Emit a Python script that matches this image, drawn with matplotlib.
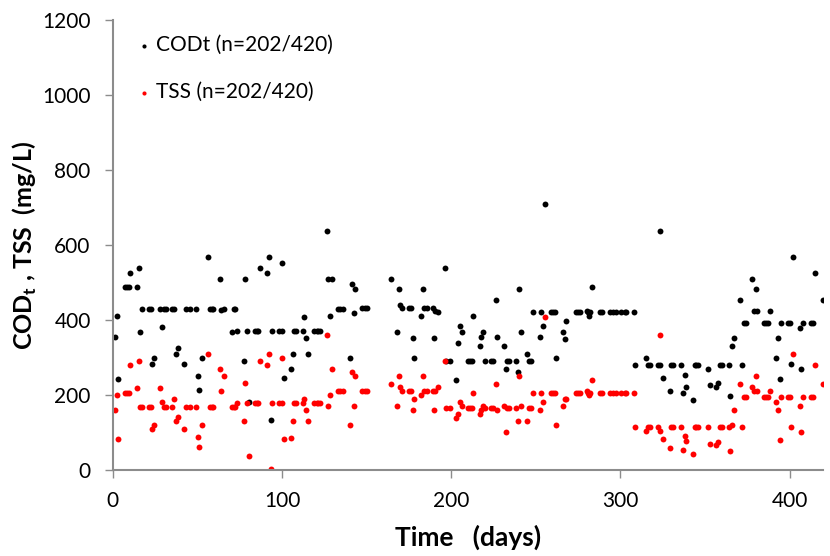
import matplotlib
matplotlib.use('Agg')
import matplotlib.pyplot as plt

plt.rcParams['font.family'] = ['Lato', 'DejaVu Sans']
plt.rcParams['mathtext.fontset'] = 'custom'
plt.rcParams['mathtext.bf'] = 'Lato:bold'

# sampling day, CODt and TSS (mg/L)
days = [1.2, 2.4, 3.3, 7.3, 8.3, 9.4, 10.4, 14.4, 15.4, 16.3, 17.3, 21.5, 22.4, 23.2, 24.4,
        28.1, 29.3, 30.1, 31.3, 35.2, 36.2, 37.4, 38.4, 42.3, 43.5, 45.3, 49.4, 50.2, 51.2,
        52.4, 56.1, 57.5, 58.5, 59.4, 63.4, 64.2, 65.4, 70.3, 71.5, 72.2, 73.2, 77.4, 78.3,
        79.1, 80.3, 84, 85, 86, 87.2, 91.1, 92.3, 93.3, 94.3, 98.2, 99.8,
        100.2, 101.2, 105.3, 106.3, 107.3, 108.3, 112.2, 113.2, 114.2, 115.1, 119.1, 120.5,
        121.4, 122.4, 126.4, 127.3, 128.1, 129.3, 133.3, 134.2, 136.2, 140.1, 141.1, 142.3,
        143.3, 147.2, 149, 150.4, 164.2, 168.1, 169.1, 169.9, 171.1, 174.8, 176.2, 177.2,
        178.1, 182.1, 183.1, 184, 185.4, 189, 190.1, 190.7, 191.9, 196.1, 197.2, 199.2,
        203.1, 204.1, 205.1, 206.1, 210, 211, 212, 213, 216.9, 217.9, 218.9, 219.9, 223.8,
        224.8, 226.2, 227.2, 231.1, 232.1, 233.1, 234.1, 238.2, 239.2, 240.2, 241.1, 245.1,
        246.1, 247.1, 248.2, 252.2, 253.1, 254.1, 255.3, 259.2, 260.2, 261.2, 262.2, 266.1,
        267.1, 268.1, 274, 275, 276, 280, 281, 281.5, 282.3, 283.3, 287.8, 289.2, 293.7,
        295.7, 297.6, 300.6, 302.6, 303.5, 307.9,
        308.9, 315, 316.3, 317.3, 322.2, 323.2, 323.4, 325.2, 329.1, 330.1, 331.1, 336, 337,
        338, 339, 342.9, 343.9, 344.9, 345.9, 352, 353, 356.7, 357.9, 359, 360, 364, 365,
        366, 367, 371, 372, 373, 374, 378, 379, 380, 381, 385, 386.2, 387.4, 388.2, 392.1,
        393.1, 394.1, 395.1, 399, 400, 401, 402, 405.9, 406.9, 407.9, 412.8, 413.8, 415, 420]

cod = [354, 411, 242, 489, 489, 489, 524, 489, 539, 368, 429, 429, 429, 282, 297,
       429, 381, 429, 429, 429, 429, 310, 325, 282, 429, 429, 429, 251, 212,
       297, 567, 429, 429, 429, 510, 427, 429, 368, 429, 429, 370, 290, 509,
       370, 181, 370, 370, 370, 539, 524, 567, 132, 370, 370, 370,
       553, 245, 269, 310, 370, 370, 370, 409, 353, 310, 370, 370,
       370, 370, 637, 509, 410, 509, 430, 430, 430, 297, 496, 419,
       482, 431, 431, 431, 509, 367, 482, 439, 431, 431, 431, 353,
       299, 410, 482, 431, 431, 431, 353, 425, 420, 539, 289, 289,
       239, 339, 384, 368, 289, 289, 289, 411, 329, 354, 368, 289, 289,
       289, 453, 354, 329, 268, 289, 289, 289, 260, 482, 368, 310,
       289, 289, 420, 354, 420, 384, 709, 420, 420, 420, 297, 368,
       349, 396, 420, 420, 420, 425, 420, 411, 420, 489, 420, 420, 420,
       420, 420, 420, 420, 420, 420,
       279, 299, 279, 279, 279, 279, 637, 244, 211, 279, 279, 279, 204,
       254, 220, 185, 279, 279, 279, 269, 227, 220, 232, 279, 279, 279, 198,
       329, 353, 453, 279, 391, 391, 509, 425, 482, 425, 391, 391, 391, 425, 299,
       353, 242, 391, 391, 391, 282, 567, 379, 268, 391, 391, 391, 524, 453]

tss = [159, 200, 82, 204, 204, 204, 279, 219, 290, 168, 168, 167, 167, 109, 119,
       219, 180, 167, 167, 167, 189, 129, 140, 109, 167, 167, 167, 88, 60,
       119, 309, 167, 167, 167, 269, 209, 249, 167, 167, 167, 177, 129, 231,
       178, 38, 178, 178, 178, 290, 279, 309, 3, 178, 178, 178,
       299, 83, 84, 129, 178, 178, 178, 189, 159, 129, 178, 178,
       178, 178, 359, 169, 199, 269, 209, 209, 209, 119, 260, 169,
       249, 209, 209, 209, 229, 169, 249, 220, 209, 209, 209, 159,
       189, 199, 249, 209, 209, 209, 159, 210, 220, 289, 164, 164,
       139, 149, 180, 169, 164, 164, 164, 204, 149, 159, 169, 164, 164,
       164, 229, 159, 169, 100, 164, 164, 164, 129, 249, 169, 129,
       164, 164, 206, 159, 206, 180, 409, 206, 206, 206, 119, 169,
       189, 189, 206, 206, 206, 210, 206, 200, 206, 239, 206, 206, 206,
       206, 206, 206, 206, 206, 206,
       113, 103, 113, 113, 113, 103, 359, 82, 59, 113, 113, 113, 53,
       89, 76, 41, 113, 113, 113, 113, 70, 65, 74, 113, 113, 113, 50,
       119, 159, 229, 113, 195, 195, 220, 210, 249, 210, 195, 195, 195, 210, 180,
       159, 80, 195, 195, 195, 113, 309, 169, 100, 195, 195, 195, 279, 229]

fig = plt.figure(figsize=(8.3, 5.56), dpi=100)
ax = fig.add_axes([0.136, 0.155, 0.856, 0.809])

ax.scatter(days, cod, s=18, c='black', linewidths=0, label='CODt (n=202/420)')
ax.scatter(days, tss, s=18, c='red', linewidths=0, label='TSS (n=202/420)')

ax.set_xlim(0, 420)
ax.set_ylim(0, 1200)
ax.set_xticks([0, 100, 200, 300, 400])
ax.set_yticks(range(0, 1201, 200))

for side in ['top', 'right']:
    ax.spines[side].set_visible(False)
for side in ['left', 'bottom']:
    ax.spines[side].set_color('#8c8c8c')
    ax.spines[side].set_linewidth(1.5)
ax.tick_params(colors='#8c8c8c', labelcolor='black', labelsize=15, length=6, width=1)
ax.tick_params(axis='y', pad=10)
ax.tick_params(axis='x', pad=9)

ax.set_xlabel('Time   (days)', fontsize=19, fontweight='bold', labelpad=10)
ax.set_ylabel(r'COD$_\mathbf{t}$ , TSS  (mg/L)', fontsize=18, fontweight='bold', labelpad=2)

ax.legend(loc='upper left', bbox_to_anchor=(0.02, 0.985), borderaxespad=0, frameon=False,
          fontsize=15, labelspacing=1.3, handlelength=0.8, handletextpad=0.2, markerscale=0.7)

fig.savefig('out.png', dpi=100)
